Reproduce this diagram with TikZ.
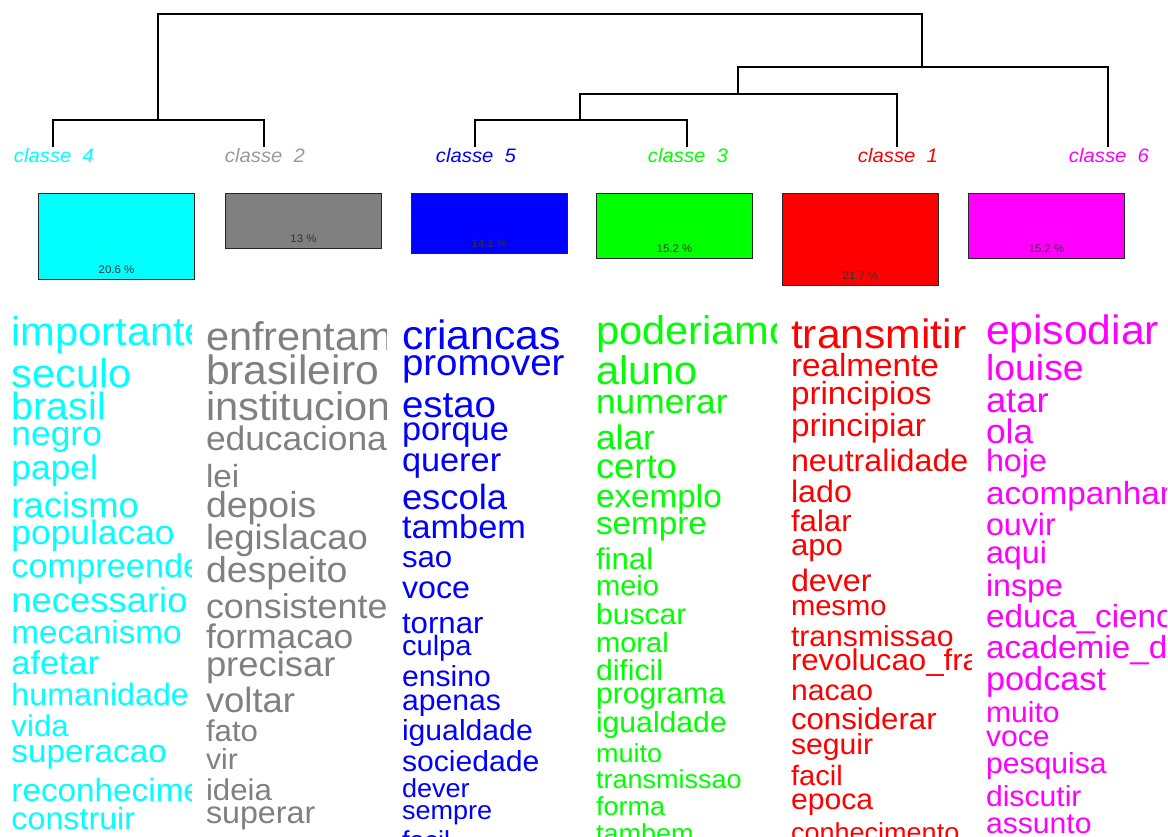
\documentclass[tikz,border=0pt]{standalone}
\usepackage{fontspec}
\setmainfont{Liberation Sans}[FakeStretch=1.04]
\definecolor{wgray}{HTML}{808080}
\definecolor{lgray}{HTML}{9A9A9A}
\definecolor{pcyan}{HTML}{00FFFF}
\definecolor{pblue}{HTML}{0000FF}
\definecolor{pgreen}{HTML}{00FF00}
\definecolor{pred}{HTML}{FF0000}
\definecolor{pmag}{HTML}{FF00FF}
\tikzset{
  word/.style={anchor=base west, inner sep=0pt, outer sep=0pt},
  clabel/.style={anchor=base, inner sep=0pt, font=\fontsize{19.5}{19.5}\selectfont\itshape},
  bar/.style={draw=black!85, line width=1pt, anchor=north west, inner sep=0pt, minimum width=156pt},
  pct/.style={inner sep=0pt, anchor=base, font=\fontsize{11}{11}\selectfont, text=black!80},
  dendro/.style={line width=1.4pt, black}
}
\newcommand\wordcol[5]{%
  \begin{scope}[yshift=-#5pt]
    \clip (#2-3,290-#5) rectangle (#2+180,836-#5);
    \foreach \fs/\yy/\wtext [count=\i] in {#4}
      \node[word, text=#3, font=\fontsize{\fs}{\fs}\selectfont] (#1w\i) at (#2,\yy) {\wtext};
  \end{scope}}
\begin{document}
\begin{tikzpicture}[x=1pt,y=-1pt]
\useasboundingbox (0,0) rectangle (1168,836);
% dendrogram
\coordinate (l4) at (53,147);
\coordinate (l2) at (264,147);
\coordinate (l5) at (475,147);
\coordinate (l3) at (687,147);
\coordinate (l1) at (897,147);
\coordinate (l6) at (1108,147);
\coordinate (m42) at (158,120);
\coordinate (m53) at (580,120);
\coordinate (m531) at (738,94);
\coordinate (m5316) at (922,67);
\coordinate (root) at (540,14);
\draw[dendro] (l4) |- (m42) -| (l2);
\draw[dendro] (l5) |- (m53) -| (l3);
\draw[dendro] (m53) |- (m531) -| (l1);
\draw[dendro] (m531) |- (m5316) -| (l6);
\draw[dendro] (m42) |- (root) -| (m5316);
% class labels
\node[clabel, text=pcyan] (c4) at (54,162) {classe\ \ 4};
\node[clabel, text=lgray] (c2) at (265,162) {classe\ \ 2};
\node[clabel, text=pblue] (c5) at (476,162) {classe\ \ 5};
\node[clabel, text=pgreen] (c3) at (688,162) {classe\ \ 3};
\node[clabel, text=pred] (c1) at (898,162) {classe\ \ 1};
\node[clabel, text=pmag] (c6) at (1109,162) {classe\ \ 6};
% bars
\node[bar, fill=pcyan, minimum height=86pt] (b4) at (38,193) {};
\node[bar, fill=wgray, minimum height=55pt] (b2) at (225,193) {};
\node[bar, fill=pblue, minimum height=60pt] (b5) at (411,193) {};
\node[bar, fill=pgreen, minimum height=65pt] (b3) at (596,193) {};
\node[bar, fill=pred, minimum height=92pt] (b1) at (782,193) {};
\node[bar, fill=pmag, minimum height=65pt] (b6) at (968,193) {};
\node[pct] (p4) at ([yshift=6.5pt]b4.south) {20.6 \%};
\node[pct] (p2) at ([yshift=6.5pt]b2.south) {13 \%};
\node[pct] (p5) at ([yshift=6.5pt]b5.south) {14.1 \%};
\node[pct] (p3) at ([yshift=6.5pt]b3.south) {15.2 \%};
\node[pct] (p1) at ([yshift=6.5pt]b1.south) {21.7 \%};
\node[pct] (p6) at ([yshift=6.5pt]b6.south) {15.2 \%};
% word columns
\wordcol{k4}{11.5}{pcyan}{40/343/importante, 40/385/seculo, 38/417/brasil, 34/443/negro, 34/477/papel, 35/515/racismo, 34/542/populacao, 33/575/compreender, 35/610/necessario, 32/641/mecanismo, 33/672/afetar, 31/703/humanidade, 30/734/vida, 32/760/superacao, 32/799/reconhecimento, 31/827/construir}{2}
\wordcol{k2}{206}{wgray}{40/348/enfrentamento, 41/382/brasileiro, 40/418/institucional, 34/448/educacional, 32/485/lei, 36/515/depois, 35/547/legislacao, 36/580/despeito, 34.5/616/consistente, 34/646/formacao, 35/674/precisar, 35/710/voltar, 30/739/fato, 29/767/vir, 30/798/ideia, 31/821/superar}{2.5}
\wordcol{k5}{402}{pblue}{41/348/criancas, 37/374/promover, 37/416/estao, 33/439/porque, 33/470/querer, 35/508/escola, 33/537/tambem, 30/566/sao, 31/597/voce, 30/632/tornar, 28/654/culpa, 29/685/ensino, 29/709/apenas, 29/739/igualdade, 29/770/sociedade, 26/796/dever, 26/818/sempre, 26/848/facil}{1.5}
\wordcol{k3}{596}{pgreen}{40/343/poderiamos, 40/383/aluno, 34/412/numerar, 34/448/alar, 35/477/certo, 32/506/exemplo, 32/533/sempre, 30/568/final, 28/594/meio, 29/623/buscar, 28/651/moral, 29/679/dificil, 29/702/programa, 29/731/igualdade, 26/761/muito, 26/787/transmissao, 26/814/forma, 26/841/tambem}{1.5}
\wordcol{k1}{791}{pred}{41/347/transmitir, 32/375/realmente, 32/403/principios, 32/435/principiar, 31/470/neutralidade, 31/501/lado, 30/530/falar, 30/554/apo, 31/590/dever, 28/614/mesmo, 29/645/transmissao, 30/669/revolucao\_francesa, 29/699/nacao, 30/728/considerar, 29/753/seguir, 28/784/facil, 29/808/epoca, 26/840/conhecimento}{1.5}
\wordcol{k6}{986}{pmag}{41/343/episodiar, 36/379/louise, 35/411/atar, 34/442/ola, 31/470/hoje, 32/503/acompanhar, 31/534/ouvir, 31/562/aqui, 31/595/inspe, 32/626/educa\_ciencia, 32/657/academie\_de\_paris, 33/689/podcast, 29/721/muito, 29/745/voce, 29/772/pesquisa, 29/805/discutir, 29/832/assunto}{1.5}
\end{tikzpicture}
\end{document}
